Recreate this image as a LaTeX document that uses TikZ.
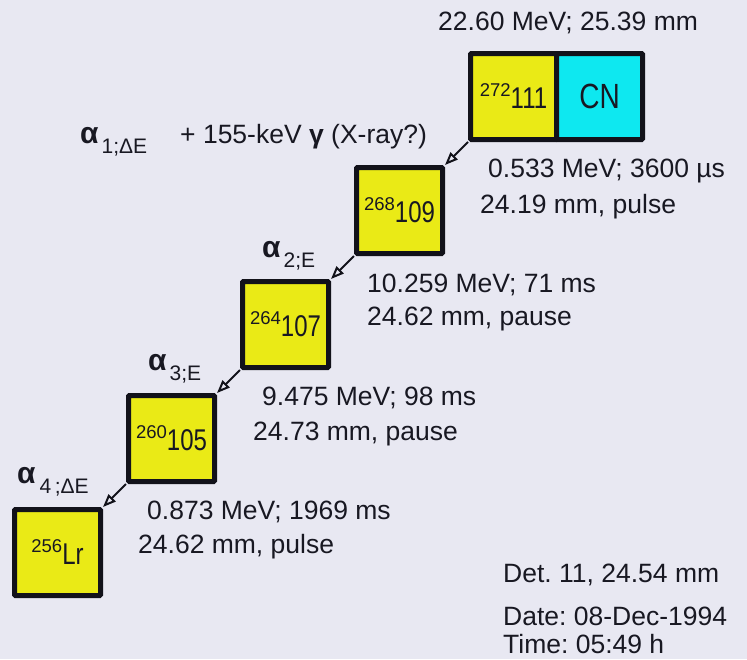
\documentclass[tikz,border=0pt]{standalone}
\usepackage{fontspec}
\setmainfont{Liberation Sans}
\newfontfamily\condfont[FakeStretch=0.8]{Liberation Sans}
\usetikzlibrary{arrows.meta}
\definecolor{bgc}{RGB}{232,232,242}
\definecolor{nucyellow}{RGB}{234,234,22}
\definecolor{cncyan}{RGB}{14,232,240}
\definecolor{boxline}{RGB}{18,18,26}
\definecolor{txt}{RGB}{24,24,34}
\newcommand{\nuc}[2]{\raisebox{12pt}{\fontsize{18.5}{18.5}\selectfont #1}{\condfont\fontsize{30}{30}\selectfont #2}}
\newcommand{\alphsub}[2]{\textbf{α}\hspace{#2}\raisebox{-10pt}{\fontsize{21}{21}\selectfont #1}}
\frenchspacing
\begin{document}
\begin{tikzpicture}[x=1pt,y=-1pt,
  nucbox/.style={draw=boxline, line width=5pt, fill=nucyellow, minimum width=86pt, minimum height=86pt,
    inner sep=0pt, rounded corners=1pt, text=txt, text height=23pt, text depth=0pt},
  cnbox/.style={nucbox, fill=cncyan},
  decay/.style={-{Triangle[open,length=13pt,width=10pt]}, line width=2pt, draw=boxline},
  lbl/.style={anchor=base west, inner sep=0pt, text=txt, font=\fontsize{26.5}{30}\selectfont},
  alph/.style={anchor=base west, inner sep=0pt, text=txt, font=\fontsize{30}{30}\selectfont}]
\fill[bgc] (0,0) rectangle (747,659);
\useasboundingbox (0,0) rectangle (747,659);

% boxes
\node[nucbox] (n272) at (513.5,96.5) {\nuc{272}{111}};
\node[cnbox]  (cn)   at (599.5,96.5) {{\condfont\fontsize{35}{35}\selectfont CN}};
\node[nucbox] (n268) at (399.5,210.5) {\nuc{268}{109}};
\node[nucbox] (n264) at (285.5,324.5) {\nuc{264}{107}};
\node[nucbox] (n260) at (171.5,438.5) {\nuc{260}{105}};
\node[nucbox] (n256) at (57.5,552.5) {\nuc{256}{Lr}};

% decay arrows
\draw[decay] (n272.south west) -- (n268.north east);
\draw[decay] (n268.south west) -- (n264.north east);
\draw[decay] (n264.south west) -- (n260.north east);
\draw[decay] (n260.south west) -- (n256.north east);

% top label
\node[lbl] (t0) at (438,30) {22.60 MeV; 25.39 mm};

% alpha labels
\node[alph] (a1) at (80,143) {\alphsub{1;ΔE}{3pt}};
\node[lbl] (g1) at (180,143) {+ 155-keV \textbf{γ} (X-ray?)};
\node[alph] (a2) at (262,257) {\alphsub{2;E}{3pt}};
\node[alph] (a3) at (148,370) {\alphsub{3;E}{3pt}};
\node[alph] (a4) at (17,483) {\alphsub{4\,;ΔE}{4pt}};

% decay data
\node[lbl] (d1a) at (488,177) {0.533 MeV; 3600 µs};
\node[lbl] (d1b) at (480,213) {24.19 mm, pulse};
\node[lbl] (d2a) at (367,292) {10.259 MeV; 71 ms};
\node[lbl] (d2b) at (367,325) {24.62 mm, pause};
\node[lbl] (d3a) at (262,405) {9.475 MeV; 98 ms};
\node[lbl] (d3b) at (253,440) {24.73 mm, pause};
\node[lbl] (d4a) at (147,519) {0.873 MeV; 1969 ms};
\node[lbl] (d4b) at (138,553) {24.62 mm, pulse};

% detector info
\node[lbl] (det) at (503,582) {Det. 11, 24.54 mm};
\node[lbl] (date) at (503,625) {Date: 08-Dec-1994};
\node[lbl] (time) at (503,653) {Time: 05:49 h};
\end{tikzpicture}
\end{document}
